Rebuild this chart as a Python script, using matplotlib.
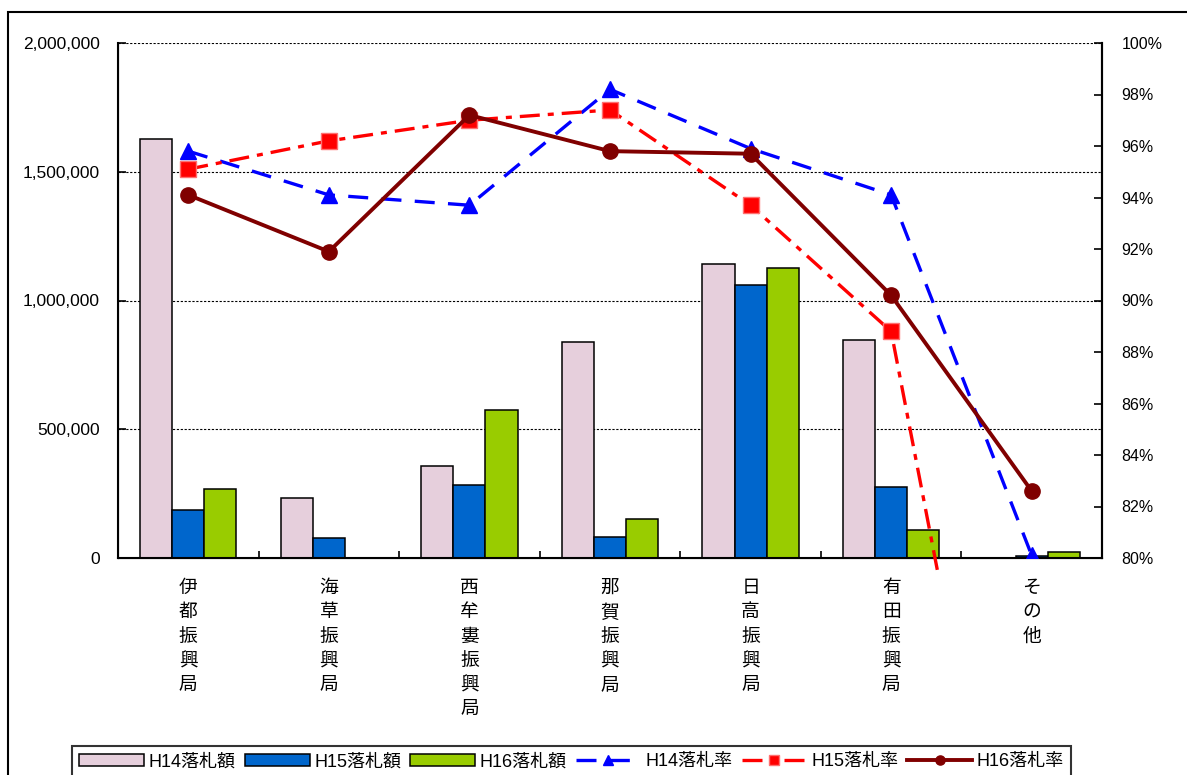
import matplotlib
matplotlib.use("Agg")
import matplotlib.pyplot as plt
import numpy as np
from matplotlib.patches import Rectangle
from matplotlib.transforms import Bbox, TransformedBbox
from matplotlib.ticker import FuncFormatter, MultipleLocator

plt.rcParams['font.family'] = ['Liberation Sans', 'Noto Sans CJK JP', 'DejaVu Sans']

categories = ['伊都振興局', '海草振興局', '西牟婁振興局', '那賀振興局', '日高振興局', '有田振興局', 'その他']
h14_amt = [1627000, 233000, 357000, 839000, 1142000, 847000, 0]
h15_amt = [186000, 78000, 283000, 82000, 1060000, 276000, 8000]
h16_amt = [268000, 0, 575000, 151000, 1126000, 109000, 23000]
h14_rate = [95.8, 94.1, 93.7, 98.2, 95.9, 94.1, 80.1]
h15_rate = [95.1, 96.2, 97.0, 97.4, 93.7, 88.8, 60.6]
h16_rate = [94.1, 91.9, 97.2, 95.8, 95.7, 90.2, 82.6]

W, H = 1187, 775
fig = plt.figure(figsize=(W / 100, H / 100), dpi=100)
ax = fig.add_axes([118 / W, 1 - 558 / H, (1102 - 118) / W, (558 - 43) / H])

x = np.arange(len(categories))
bw = 0.228
ax.bar(x - bw, h14_amt, bw, color="#E6CFDC", edgecolor="black", linewidth=1.1, label="H14落札額", zorder=2)
ax.bar(x, h15_amt, bw, color="#0066CC", edgecolor="black", linewidth=1.1, label="H15落札額", zorder=2)
ax.bar(x + bw, h16_amt, bw, color="#99CC00", edgecolor="black", linewidth=1.1, label="H16落札額", zorder=2)

ax.set_xlim(-0.5, len(categories) - 0.5)
ax.set_ylim(0, 2000000)
ax.yaxis.set_major_locator(MultipleLocator(500000))
ax.yaxis.set_major_formatter(FuncFormatter(lambda v, p: f"{int(v):,}"))
ax.yaxis.grid(True, color="black", linestyle=(0, (2, 1.5)), linewidth=0.8, zorder=0)
ax.set_axisbelow(True)
ax.get_ygridlines()[-1].set_color("#888888")

ax.set_xticks(x)
ax.set_xticklabels(["\n".join(c) for c in categories], fontsize=13.5, linespacing=1.55, va="top")
ax.set_xticks(np.arange(len(categories) + 1) - 0.5, minor=True)
ax.tick_params(axis="x", which="major", length=0, pad=16)
ax.tick_params(axis="x", which="minor", direction="in", length=5, width=1.2)
ax.tick_params(axis="y", direction="in", length=6, width=1.2, pad=13, labelsize=12.5)

for s in ["left", "right", "bottom"]:
    ax.spines[s].set_linewidth(1.5)
ax.spines["top"].set_visible(False)

ax2 = ax.twinx()
ax2.set_ylim(80, 100)
ax2.yaxis.set_major_locator(MultipleLocator(2))
ax2.yaxis.set_major_formatter(FuncFormatter(lambda v, p: f"{int(round(v))}%"))
ax2.tick_params(axis="y", direction="in", length=6, width=1.2, pad=14, labelsize=11.5)
ax2.spines["top"].set_visible(False)
ax2.spines["right"].set_linewidth(1.5)

l1, = ax2.plot(x, h14_rate, color="#0000FF", linewidth=2.4, dashes=(6.0, 4.0),
               marker="^", markersize=12, markerfacecolor="#0000FF", markeredgecolor="#0000FF",
               label="H14落札率", zorder=3)
l2, = ax2.plot(x, h15_rate, color="#FF0000", linewidth=2.4, dashes=(6.0, 2.4, 1.8, 2.4),
               marker="s", markersize=11, markerfacecolor="#FF0000", markeredgecolor="#FF7070",
               label="H15落札率", zorder=4)
l3, = ax2.plot(x, h16_rate, color="#800000", linewidth=2.8, linestyle="-",
               marker="o", markersize=11, markerfacecolor="#800000", markeredgecolor="#800000",
               label="H16落札率", zorder=5)
clip = TransformedBbox(Bbox([[0, -0.025], [1, 1]]), ax2.transAxes)
l2.set_clip_box(clip)

# outer frame
fig.patches.append(Rectangle((8 / W, -0.1), 1.2, 1 - 12 / H + 0.1, transform=fig.transFigure,
                             fill=False, edgecolor="black", linewidth=1.5))

h1, lab1 = ax.get_legend_handles_labels()
h2, lab2 = ax2.get_legend_handles_labels()
leg = fig.legend(h1 + h2, lab1 + lab2, loc="upper left", bbox_to_anchor=(72 / W, 1 - 746 / H),
                 ncol=6, fontsize=13, frameon=True, fancybox=False, borderaxespad=0,
                 handlelength=3.6, handletextpad=0.25, columnspacing=0.5, markerscale=0.6,
                 borderpad=0.4)
leg.get_frame().set_edgecolor("black")
leg.get_frame().set_linewidth(1.5)

fig.savefig("out.png", dpi=100)
